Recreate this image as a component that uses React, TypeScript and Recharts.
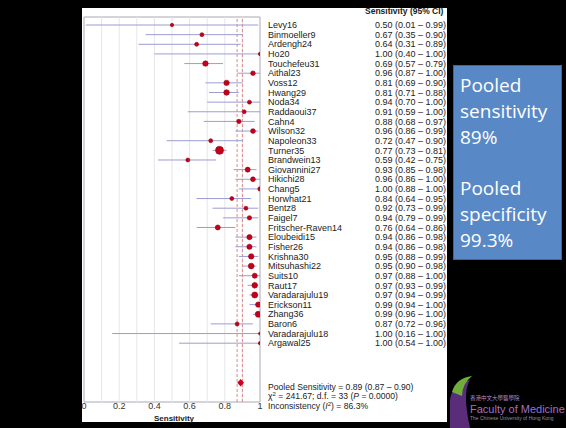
import React from 'react';
import { ScatterChart, Scatter, XAxis, YAxis, ZAxis, ErrorBar, ReferenceLine, ReferenceArea } from 'recharts';

// study labels, point estimates and 95% CI
const studies = [
  'Levy16', 'Binmoeller9', 'Ardengh24', 'Ho20', 'Touchefeu31', 'Aithal23', 'Voss12', 'Hwang29',
  'Noda34', 'Raddaoui37', 'Cahn4', 'Wilson32', 'Napoleon33', 'Turner35', 'Brandwein13', 'Giovannini27',
  'Hikichi28', 'Chang5', 'Horwhat21', 'Bentz8', 'Faigel7', 'Fritscher-Raven14', 'Eloubeidi15', 'Fisher26',
  'Krishna30', 'Mitsuhashi22', 'Suits10', 'Raut17', 'Varadarajulu19', 'Erickson11', 'Zhang36', 'Baron6',
  'Varadarajulu18', 'Argawal25',
];
const sensitivity = [
  0.50, 0.67, 0.64, 1.00, 0.69, 0.96, 0.81, 0.81, 0.94, 0.91, 0.88, 0.96, 0.72, 0.77, 0.59, 0.93,
  0.96, 1.00, 0.84, 0.92, 0.94, 0.76, 0.94, 0.94, 0.95, 0.95, 0.97, 0.97, 0.97, 0.99, 0.99, 0.87,
  1.00, 1.00,
];
const ciLow = [
  0.01, 0.35, 0.31, 0.40, 0.57, 0.87, 0.69, 0.71, 0.70, 0.59, 0.68, 0.86, 0.47, 0.73, 0.42, 0.85,
  0.86, 0.88, 0.64, 0.73, 0.79, 0.64, 0.86, 0.86, 0.88, 0.90, 0.88, 0.93, 0.94, 0.94, 0.96, 0.72,
  0.16, 0.54,
];
const ciHigh = [
  0.99, 0.90, 0.89, 1.00, 0.79, 1.00, 0.90, 0.88, 1.00, 1.00, 0.97, 0.99, 0.90, 0.81, 0.75, 0.98,
  1.00, 1.00, 0.95, 0.99, 0.99, 0.86, 0.98, 0.98, 0.99, 0.98, 1.00, 0.99, 0.99, 1.00, 1.00, 0.96,
  1.00, 1.00,
];
// relative study weights (marker area)
const weights = [
  3, 4, 4, 3, 7.5, 5.3, 7.3, 7.8, 4, 4, 4.8, 5.8, 4, 16, 4, 6.3,
  5.8, 4.8, 4, 4, 4.8, 6.3, 6.8, 6.8, 7.3, 8.4, 6.3, 7.8, 9, 7.3, 9, 4,
  2.3, 2.9,
];
const pooledSens = 0.89;
const pooledLow = 0.87;
const pooledHigh = 0.90;
const pooledRow = 37.1;

const xTicks = [0, 0.2, 0.4, 0.6, 0.8, 1];
const gridValues = [0.1, 0.2, 0.3, 0.4, 0.5, 0.6, 0.7, 0.8, 0.9];
const yDomain: [number, number] = [-0.83, 39.1];

const rows = studies.map((name, i) => ({
  name,
  idx: i,
  sens: sensitivity[i],
  lo: ciLow[i],
  hi: ciHigh[i],
  err: [sensitivity[i] - ciLow[i], ciHigh[i] - sensitivity[i]],
  w: weights[i],
}));
const pooledData = [{ sens: pooledSens, idx: pooledRow, lo: pooledLow, hi: pooledHigh }];

const FONT = '"Liberation Sans", Arial, sans-serif';

const StudyTick = (props: any) => {
  const { x, y, payload } = props;
  const r = rows[payload.value];
  if (!r) return null;
  return (
    <g fontFamily={FONT} fontSize={9} fill="#222">
      <text x={x} y={y} dy={3.2}>{r.name}</text>
      <text x={x + 107} y={y} dy={3.2}>{r.sens.toFixed(2)}</text>
      <text x={x + 127} y={y} dy={3.2}>({r.lo.toFixed(2)} – {r.hi.toFixed(2)})</text>
    </g>
  );
};

const StudyDot = (props: any) => {
  const { cx, cy, size, payload } = props;
  const r = size ? Math.sqrt(size / Math.PI) : Math.sqrt(payload.w);
  return <circle cx={cx} cy={cy} r={r} fill="#c4001a" stroke="#960010" strokeWidth={0.6} />;
};

const PooledDiamond = (props: any) => {
  const { cx, cy } = props;
  return (
    <polygon
      points={`${cx - 3.4},${cy} ${cx},${cy - 3.8} ${cx + 3.4},${cy} ${cx},${cy + 3.8}`}
      fill="#d0001c"
    />
  );
};

export default function App() {
  return (
    <div style={{ position: 'absolute', left: 0, top: 0, width: 566, height: 428, background: '#000', overflow: 'hidden' }}>
      <div style={{ position: 'absolute', left: 82, top: 8, width: 365, height: 414, background: '#fff' }} />
      <div style={{ position: 'absolute', left: 0, top: 0 }}>
        <ScatterChart width={566} height={428} margin={{ top: 17, right: 0, bottom: 6, left: 84 }}>
          {gridValues.map((g) => (
            <ReferenceLine key={g} x={g} stroke="#e6e6ea" strokeWidth={1} />
          ))}
          <ReferenceArea x1={0} x2={1} y1={yDomain[0]} y2={yDomain[1]} fill="none" stroke="#a8a8b4" strokeWidth={1} />
          <ReferenceLine x={pooledLow} stroke="#e08a8a" strokeDasharray="3 2" />
          <ReferenceLine x={pooledHigh} stroke="#e08a8a" strokeDasharray="3 2" />
          <XAxis
            type="number"
            dataKey="sens"
            domain={[0, 1]}
            ticks={xTicks}
            allowDataOverflow
            tickFormatter={(v: number) => (v === 0 ? '0' : v === 1 ? '1' : v.toFixed(1))}
            tick={{ fontSize: 9, fill: '#333', fontFamily: FONT }}
            tickLine={false}
            axisLine={false}
            tickSize={0}
            tickMargin={1}
            height={20}
          />
          <YAxis
            type="number"
            dataKey="idx"
            domain={yDomain}
            allowDataOverflow
            reversed
            orientation="right"
            ticks={rows.map((r) => r.idx)}
            interval={0}
            tick={<StudyTick />}
            tickLine={false}
            axisLine={false}
            tickSize={0}
            tickMargin={8}
            width={306}
          />
          <ZAxis type="number" dataKey="w" domain={[0, 16]} range={[0, 16 * Math.PI]} />
          <Scatter data={rows} shape={<StudyDot />} isAnimationActive={false}>
            <ErrorBar dataKey="err" direction="x" width={0} stroke="#9c9cd6" strokeWidth={1} isAnimationActive={false} />
          </Scatter>
          <Scatter data={pooledData} shape={<PooledDiamond />} isAnimationActive={false} />
        </ScatterChart>
      </div>
      <svg width={566} height={428} style={{ position: 'absolute', left: 0, top: 0, pointerEvents: 'none' }}>
        <text x={365} y={14} fontFamily={FONT} fontSize={8.5} fontWeight="bold" fill="#222">Sensitivity (95% CI)</text>
        <text x={174} y={421} textAnchor="middle" fontFamily={FONT} fontSize={8} fontWeight="bold" fill="#222">Sensitivity</text>
        <g fontFamily={FONT} fontSize={8.6} fill="#222">
          <text x={268} y={389.5}>Pooled Sensitivity = 0.89 (0.87 – 0.90)</text>
          <text x={268} y={399}>
            χ<tspan fontSize={6} dy={-3}>2</tspan><tspan dy={3}> = 241.67; d.f. = 33 (</tspan>
            <tspan fontStyle="italic">P</tspan> = 0.0000)
          </text>
          <text x={268} y={408.5}>
            Inconsistency (<tspan fontStyle="italic">I</tspan><tspan fontSize={6} dy={-3}>2</tspan><tspan dy={3}>) = 86.3%</tspan>
          </text>
        </g>
        <rect x={453.5} y={65.5} width={108} height={194} fill="#5889c6" stroke="#3d679c" strokeWidth={1} />
        <g fontFamily="'Open Sans', 'Noto Sans', sans-serif" fontSize={19} fill="#fff">
          <text x={460} y={92}>Pooled</text>
          <text x={460} y={118}>sensitivity</text>
          <text x={460} y={143.5}>89%</text>
          <text x={460} y={195}>Pooled</text>
          <text x={460} y={221}>specificity</text>
          <text x={460} y={247}>99.3%</text>
        </g>
        <path d="M450,428 L450,400 Q452,384 470,380 Q462,392 470,428 Z" fill="#5a2d7a" />
        <path d="M452,392 Q456,378 472,376 Q462,384 462,396 Z" fill="#6fae3a" />
        <text x={470} y={400} fontFamily="'Noto Sans CJK TC', sans-serif" fontSize={5.5} fill="#b08ccc">香港中文大學醫學院</text>
        <text x={470} y={413} fontFamily={FONT} fontSize={11} fill="#a070c8">Faculty of Medicine</text>
        <text x={470} y={420} fontFamily={FONT} fontSize={5} fill="#8f8f9f">The Chinese University of Hong Kong</text>
      </svg>
    </div>
  );
}
